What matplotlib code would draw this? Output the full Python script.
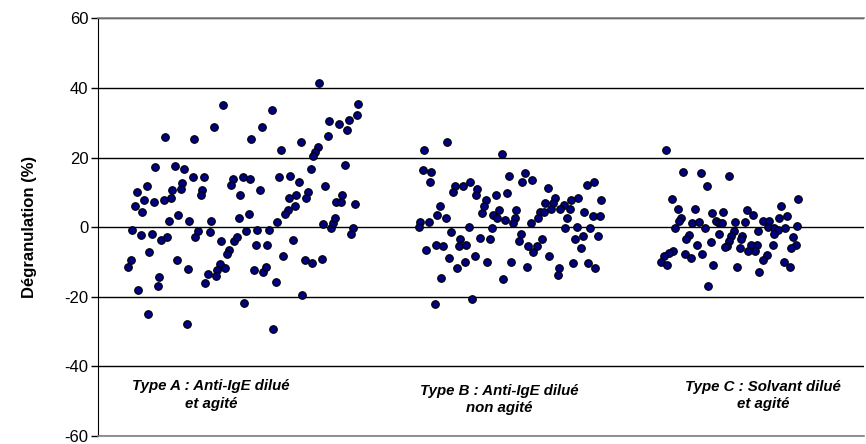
import matplotlib
matplotlib.use("Agg")
import matplotlib.pyplot as plt

plt.rcParams["font.family"] = ["Liberation Sans", "DejaVu Sans"]
plt.rcParams["axes.unicode_minus"] = False

# position along the x axis (run order) and degranulation (%) for each group
xA = [165.3, 194.0, 155.0, 175.3, 184.0, 192.7, 146.7, 136.7, 182.3, 180.7,
      172.3, 143.7, 153.7, 163.7, 170.7, 135.0, 142.0, 178.0, 169.3, 189.3,
      131.7, 140.7, 152.0, 160.7, 166.7, 198.3, 195.3, 149.3, 130.7, 128.0,
      176.7, 188.0, 159.3, 157.7, 138.0, 148.0, 186.7,
      222.7, 271.7, 214.0, 261.7, 251.3, 281.3, 204.0, 232.7, 231.3, 242.7,
      250.3, 278.7, 201.7, 201.0, 240.0, 260.3, 211.0, 238.7, 248.7, 277.3,
      210.0, 221.3, 246.0, 257.3, 269.0, 233.7, 237.3, 256.0, 267.3, 282.7,
      228.7, 227.0, 220.0, 216.7, 225.3, 208.0, 215.7, 205.3, 254.3, 263.3,
      266.3, 276.0, 244.3, 272.7,
      319.3, 358.0, 356.7, 329.3, 339.3, 349.3, 346.7, 328.0, 300.7, 317.7,
      315.3, 313.3, 310.7, 344.7, 290.3, 299.0, 324.7, 288.7, 296.0, 307.7,
      306.0, 287.7, 284.7, 294.7, 336.3, 341.0, 342.3, 355.0, 323.3, 330.7,
      333.3, 335.0, 352.7, 350.7, 293.3, 304.7, 312.0, 322.0, 302.0]
yA = [25.9, 25.5, 17.2, 17.6, 16.8, 14.3, 11.8, 10.1, 12.6, 11.0,
      10.7, 7.7, 7.2, 7.7, 8.5, 6.0, 4.3, 3.5, 1.8, 1.8,
      -0.7, -2.3, -1.8, -3.6, -2.7, -1.1, -2.7, -7.2, -9.4, -11.4,
      -9.3, -11.9, -14.3, -16.8, -18.1, -24.8, -27.7,
      35.0, 33.8, 28.8, 28.8, 25.5, 22.1, 14.3, 13.8, 12.2, 14.3,
      13.8, 14.3, 10.7, 9.2, 9.2, 10.6, 1.8, 2.7, 3.8, 1.4,
      -1.5, -4.0, -1.2, -0.7, -0.8, -4.0, -2.7, -5.2, -5.2, -8.2,
      -6.4, -7.7, -10.5, -12.3, -11.8, -13.4, -14.0, -15.9, -12.3, -12.8,
      -11.4, -15.6, -21.8, -29.2,
      41.6, 35.5, 32.2, 30.5, 29.7, 30.9, 28.0, 26.3, 24.6, 23.1,
      21.7, 20.5, 16.8, 18.0, 14.7, 13.1, 11.8, 8.5, 9.3, 10.2,
      8.5, 5.1, 3.8, 6.0, 7.2, 7.2, 9.3, 6.7, 1.0, -0.3,
      1.3, 2.7, -0.2, -1.9, -3.6, -9.3, -10.2, -9.0, -19.4]

xB = [447.3, 424.0, 502.0, 422.7, 431.3, 430.0, 509.3, 454.7, 463.3, 470.0,
      453.0, 477.3, 476.0, 486.0, 484.3, 496.0, 507.3, 440.0, 437.3, 446.0,
      481.7, 493.3, 498.7, 497.3, 504.7, 420.0, 418.7, 428.7, 451.3, 468.7,
      492.0, 460.0, 480.0, 490.0, 426.0, 436.0, 443.3, 458.7, 466.0, 448.7,
      474.7, 457.3, 464.7, 487.3, 441.3, 503.3, 434.7, 472.0,
      524.7, 522.0, 532.0, 548.0, 586.7, 594.0, 601.3, 555.3, 545.3, 553.3,
      570.7, 578.3, 563.7, 516.3, 515.0, 513.0, 540.0, 544.0, 537.7, 550.7,
      560.3, 569.7, 584.3, 592.7, 600.0, 566.7, 530.7, 565.3, 577.0, 589.7,
      520.7, 519.3, 542.0, 575.3, 582.7, 598.0, 581.3, 528.0, 536.7, 533.3,
      549.3, 510.7, 526.7, 559.3, 558.0, 572.7, 588.0, 595.3]
yB = [24.6, 22.1, 21.0, 16.4, 15.9, 13.0, 14.7, 11.9, 11.8, 13.0,
      10.1, 11.0, 9.4, 7.8, 6.0, 9.4, 9.9, 6.0, 3.5, 2.7,
      4.0, 3.5, 4.9, 2.7, 2.0, 1.5, 0.1, 1.5, -1.3, 0.2,
      -0.1, -3.3, -3.1, -3.3, -6.6, -5.1, -5.5, -5.5, -5.1, -8.8,
      -8.4, -11.6, -10.0, -10.0, -14.5, -15.0, -22.0, -20.5,
      15.5, 13.0, 13.5, 11.4, 12.2, 13.0, 7.8, 8.5, 6.9, 6.9,
      7.8, 8.5, 6.5, 4.9, 2.7, 1.3, 4.5, 4.5, 2.7, 5.3,
      5.3, 5.3, 4.5, 3.3, 3.3, 2.7, 1.1, -0.1, 0.2, -0.1,
      -1.8, -3.9, -3.3, -3.3, -2.6, -2.6, -5.9, -5.5, -5.5, -7.2,
      -8.3, -10.0, -11.3, -11.7, -13.8, -10.4, -10.4, -11.7]

xC = [666.0, 683.3, 700.7, 729.3, 706.7, 672.0, 798.0, 677.7, 694.7, 781.3,
      712.0, 723.3, 746.7, 752.7, 787.0, 779.3, 680.7, 678.7, 692.0, 699.3,
      716.0, 718.7, 722.3, 735.3, 745.0, 763.3, 769.3, 674.7, 704.7, 768.0,
      774.0, 778.0, 785.3, 796.7, 734.0, 758.0, 774.0, 719.3, 731.3, 742.0,
      740.7, 792.7, 689.3, 686.0, 710.7, 729.3, 727.3, 724.7, 696.7, 740.0,
      772.7, 750.7, 756.7, 748.0, 754.7, 796.0, 791.3, 673.3, 668.7, 684.7,
      690.7, 702.0, 664.0, 661.3, 667.3, 767.3, 762.7, 784.0, 790.0, 713.3,
      736.7, 759.3, 708.0]
yC = [22.1, 15.9, 15.5, 14.7, 11.8, 8.0, 8.0, 5.2, 5.2, 6.0,
      4.0, 4.4, 4.9, 3.5, 3.2, 2.7, 2.7, 1.8, 1.1, 1.6,
      1.8, 1.3, 1.1, 1.6, 1.6, 1.8, 1.8, -0.2, -0.2, 0.1,
      -0.2, -0.7, -0.2, 0.3, -1.1, -1.1, -2.0, -1.8, -2.6, -2.6,
      -3.3, -2.7, -2.3, -3.5, -4.2, -4.0, -5.5, -5.6, -5.2, -5.9,
      -5.2, -5.2, -5.2, -6.8, -6.8, -5.2, -6.0, -6.8, -7.4, -7.7,
      -8.9, -7.7, -8.3, -10.0, -10.9, -8.0, -9.3, -10.0, -11.4, -10.9,
      -11.3, -13.0, -17.0]

labels = ["Type A : Anti-IgE dilué\net agité",
          "Type B : Anti-IgE dilué\nnon agité",
          "Type C : Solvant dilué\net agité"]
yticks = [-60, -40, -20, 0, 20, 40, 60]

fig = plt.figure(figsize=(8.66, 4.44), dpi=100)
ax = fig.add_axes([98 / 866, 8 / 444, 766 / 866, 417.5 / 444])

for xs, ys in [(xA, yA), (xB, yB), (xC, yC)]:
    ax.scatter(xs, ys, s=30, c="#000080", edgecolors="black",
               linewidths=0.8, zorder=3)

ax.set_xlim(98, 864)
ax.set_ylim(-60, 60)
ax.set_yticks(yticks)
ax.set_xticks([])
ax.yaxis.grid(True, color="black", linewidth=1)
ax.set_axisbelow(True)
ax.tick_params(axis="y", direction="out", length=5, width=1, pad=2,
               labelsize=12)

ax.spines["left"].set_color("black")
ax.spines["right"].set_visible(False)
for side in ["top", "bottom"]:
    ax.spines[side].set_color("#808080")
    ax.spines[side].set_linewidth(1.2)

# category captions, written inside the plot area like the original
for cx, cy, lab in [(211, -48.2, labels[0]), (499, -49.5, labels[1]),
                    (763, -48.3, labels[2])]:
    ax.text(cx, cy, lab, ha="center", va="center", fontsize=10.8,
            fontweight="bold", fontstyle="italic", linespacing=1.3)

fig.text(30 / 866, 1 - 227 / 444, "Dégranulation (%)", rotation=90,
         ha="center", va="center", fontsize=12, fontweight="bold")

fig.savefig("out.png", dpi=100)
